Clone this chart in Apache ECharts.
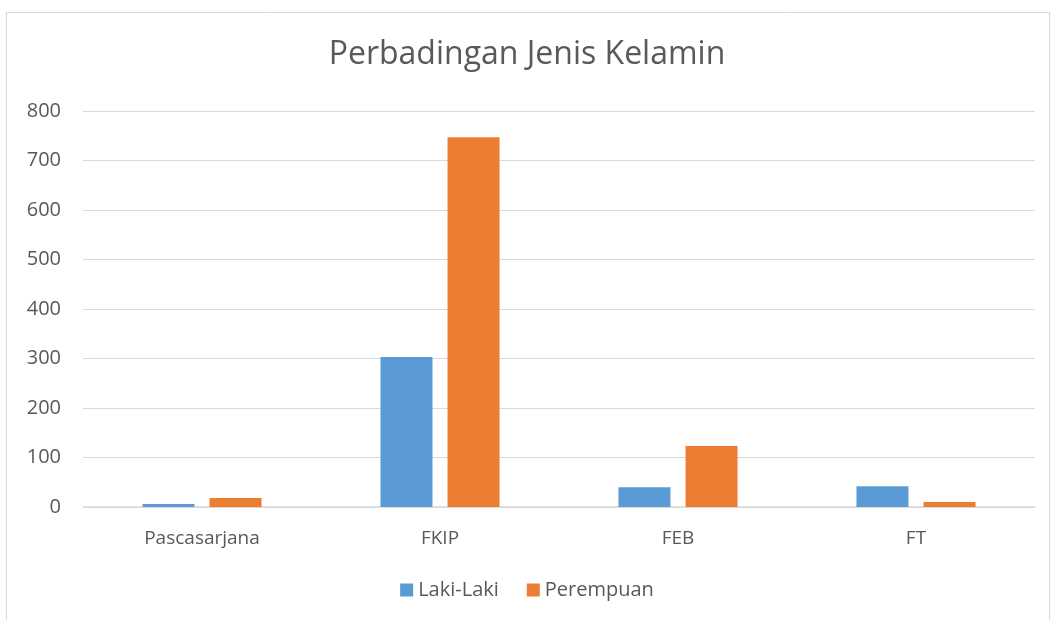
<!DOCTYPE html>
<html>
<head>
<meta charset="utf-8">
<script src="https://cdn.jsdelivr.net/npm/echarts@6/dist/echarts.min.js"></script>
<style>
  html, body { margin: 0; padding: 0; background: #fff; }
  #chart { width: 1054px; height: 620px; }
</style>
</head>
<body>
<div id="chart"></div>
<script>
// Chart data
const categories = ['Pascasarjana', 'FKIP', 'FEB', 'FT'];
const lakiLaki = [6, 303, 40, 42];
const perempuan = [18, 747, 123, 10];
const yTicks = { min: 0, max: 800, interval: 100 };

const chart = echarts.init(document.getElementById('chart'));

const option = {
    backgroundColor: '#fff',
    animation: false,
    graphic: [{
        type: 'rect',
        shape: { x: 6.5, y: 12.5, width: 1043, height: 640 },
        style: { fill: 'none', stroke: '#d9d9d9', lineWidth: 1 }
    }],
    title: {
        text: 'Perbadingan Jenis Kelamin',
        left: 'center',
        top: 34,
        textStyle: {
            fontFamily: 'Open Sans',
            fontSize: 32,
            fontWeight: 'normal',
            color: '#595959'
        }
    },
    legend: {
        bottom: 15,
        left: 'center',
        itemWidth: 13,
        itemHeight: 13,
        itemGap: 28,
        icon: 'rect',
        textStyle: { fontFamily: 'Open Sans', fontSize: 20, color: '#595959' },
        data: ['Laki-Laki', 'Perempuan']
    },
    grid: { left: 83, right: 19, top: 111, bottom: 113 },
    xAxis: {
        type: 'category',
        data: categories,
        axisTick: { show: false },
        axisLine: { lineStyle: { color: '#d9d9d9', width: 1.5 } },
        axisLabel: { fontFamily: 'Open Sans', fontSize: 19, color: '#595959', margin: 22 }
    },
    yAxis: {
        type: 'value',
        min: yTicks.min,
        max: yTicks.max,
        interval: yTicks.interval,
        axisLine: { show: false },
        axisTick: { show: false },
        splitLine: { lineStyle: { color: '#d9d9d9', width: 1 } },
        axisLabel: { fontFamily: 'Open Sans', fontSize: 20, color: '#595959', margin: 22 }
    },
    series: [
        {
            name: 'Laki-Laki',
            type: 'bar',
            data: lakiLaki,
            barWidth: 52,
            barGap: '29%',
            itemStyle: { color: '#5b9bd5' }
        },
        {
            name: 'Perempuan',
            type: 'bar',
            data: perempuan,
            barWidth: 52,
            itemStyle: { color: '#ed7d31' }
        }
    ]
};

chart.setOption(option);
</script>
</body>
</html>
